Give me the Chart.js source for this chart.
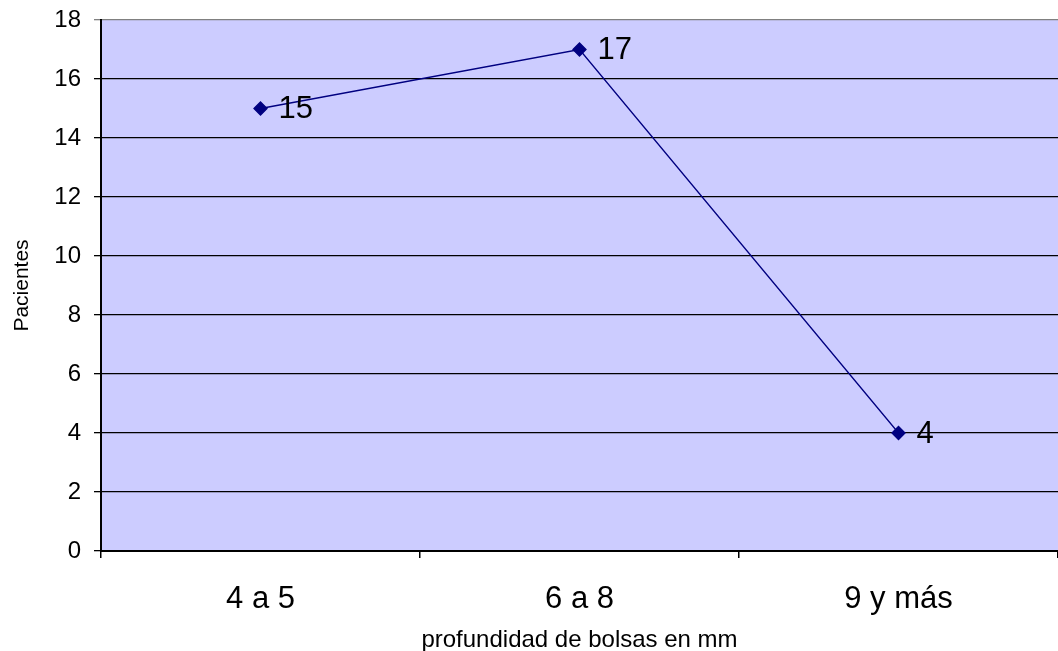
<!DOCTYPE html>
<html>
<head>
<meta charset="utf-8">
<script src="https://cdn.jsdelivr.net/npm/chart.js@4.4.0/dist/chart.umd.min.js"></script>
<style>
  html, body { margin: 0; padding: 0; background: #fff; overflow: hidden; }
  canvas { display: block; }
</style>
</head>
<body>
<canvas id="depthChart" width="1058" height="651" style="width:1058px;height:651px"></canvas>
<script>
const categories = ['4 a 5', '6 a 8', '9 y más'];
const patients = [15, 17, 4];
const yTicks = [0, 2, 4, 6, 8, 10, 12, 14, 16, 18];

const FONT = "'Liberation Sans', Arial, sans-serif";

// labels next to each point, like the original spreadsheet chart
const pointLabels = {
    id: 'pointLabels',
    afterDatasetsDraw(chart) {
        const ctx = chart.ctx;
        const meta = chart.getDatasetMeta(0);
        ctx.save();
        ctx.font = '31px ' + FONT;
        ctx.fillStyle = '#000';
        ctx.textAlign = 'left';
        ctx.textBaseline = 'middle';
        meta.data.forEach((pt, i) => {
            ctx.fillText(String(patients[i]), pt.x + 18, pt.y + 1);
        });
        ctx.restore();
    }
};

const ctx = document.getElementById('depthChart').getContext('2d');
const myChart = new Chart(ctx, {
    type: 'line',
    data: {
        labels: categories,
        datasets: [{
            label: 'Pacientes',
            data: patients,
            borderColor: '#000080',
            backgroundColor: '#000080',
            borderWidth: 1.3,
            pointStyle: 'rectRot',
            pointRadius: 6.5,
            pointHoverRadius: 6.5,
            tension: 0
        }]
    },
    options: {
        responsive: false,
        animation: false,
        devicePixelRatio: 1,
        // plot runs slightly past the right edge, as in the original
        layout: { autoPadding: false, padding: { top: 20, right: -6, left: 0, bottom: 0 } },
        plugins: {
            legend: { display: false },
            tooltip: { enabled: false }
        },
        scales: {
            x: {
                offset: true,
                grid: {
                    offset: true,
                    drawOnChartArea: false,
                    color: '#000',
                    tickLength: 7,
                    lineWidth: 1.5
                },
                border: { color: '#000', width: 2 },
                ticks: {
                    color: '#000',
                    font: { family: FONT, size: 31 },
                    padding: 23
                },
                title: {
                    display: true,
                    text: 'profundidad de bolsas en mm',
                    color: '#000',
                    font: { family: FONT, size: 24, lineHeight: 0.9 },
                    padding: { top: 4, bottom: 0 }
                },
                afterFit(scale) { scale.height = 100; }
            },
            y: {
                min: 0,
                max: 18,
                afterBuildTicks(scale) {
                    scale.ticks = yTicks.map(v => ({ value: v }));
                },
                grid: {
                    color: c => (c.tick && c.tick.value === 18 ? '#808080' : '#000'),
                    lineWidth: 1.3,
                    tickLength: 7
                },
                border: { color: '#000', width: 2 },
                ticks: {
                    color: '#000',
                    font: { family: FONT, size: 24 },
                    padding: 13
                },
                title: {
                    display: true,
                    text: 'Pacientes',
                    color: '#000',
                    font: { family: FONT, size: 21 },
                    padding: { top: 10, bottom: 8 }
                },
                afterFit(scale) {
                    scale.width = 101;
                    scale.paddingTop = 0;
                    scale.paddingBottom = 0;
                }
            }
        }
    },
    plugins: [
        pointLabels,
        {
            id: 'plotBg',
            beforeDraw(chart) {
                const a = chart.chartArea;
                chart.ctx.save();
                chart.ctx.fillStyle = '#CCCCFF';
                chart.ctx.fillRect(a.left, a.top, a.right - a.left, a.bottom - a.top);
                chart.ctx.restore();
            }
        }
    ]
});
</script>
</body>
</html>
